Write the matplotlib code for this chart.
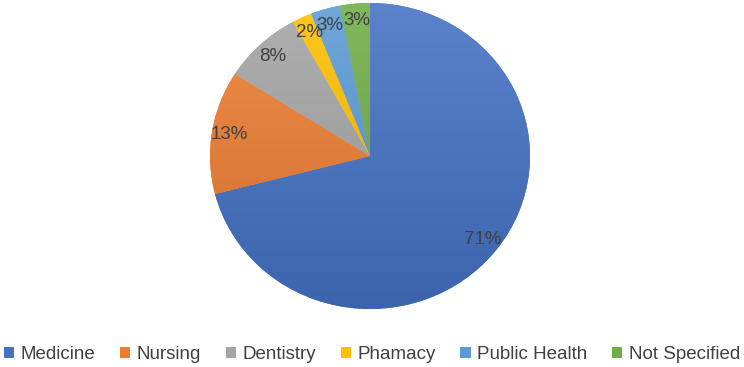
import numpy as np
import matplotlib
matplotlib.use("Agg")
import matplotlib.pyplot as plt
from matplotlib.colors import to_rgb
from matplotlib.patches import Patch

plt.rcParams['font.family'] = ['Liberation Sans', 'DejaVu Sans']

# Data
categories = ["Medicine", "Nursing", "Dentistry", "Phamacy", "Public Health", "Not Specified"]
shares = [71, 13, 8, 2, 3, 3]
colors = ["#4472C4", "#ED7D31", "#A5A5A5", "#FFC000", "#5B9BD5", "#70AD47"]


def shade(c, f):
    c = np.array(to_rgb(c))
    if f > 0:
        return c + (1 - c) * f
    return c * (1 + f)


fig = plt.figure(figsize=(7.44, 3.67), dpi=100)
W, H = 744, 367
ax = fig.add_axes([210 / W, (H - 309) / H, 320 / W, 306 / H])

wedges, texts, autotexts = ax.pie(
    shares, colors=colors, startangle=90, counterclock=False, radius=1,
    autopct='%1.0f%%', pctdistance=0.89,
    wedgeprops=dict(linewidth=0),
    textprops=dict(fontsize=13.5, color='#404040'))
ax.set_aspect('auto')
ax.set_xlim(-1, 1)
ax.set_ylim(-1, 1)

# vertical gradient on each slice (lighter at top, darker at bottom)
ys = np.linspace(0, 1, 256)[:, None]
for w, c in zip(wedges, colors):
    top = shade(c, 0.12)
    bot = shade(c, -0.12)
    grad = top[None, None, :] * (1 - ys[..., None]) + bot[None, None, :] * ys[..., None]
    grad = np.repeat(grad, 2, axis=1)
    im = ax.imshow(grad, extent=(-1, 1, -1, 1), aspect='auto', zorder=w.get_zorder() + 0.1,
                   interpolation='bilinear')
    im.set_clip_path(w)
for t in autotexts:
    t.set_zorder(5)

handles = [Patch(facecolor=c, edgecolor='none') for c in colors]
fig.legend(handles, categories, loc='lower center', bbox_to_anchor=(0.5, -0.035), ncol=6,
           frameon=False, fontsize=13.5, handlelength=0.55, handleheight=0.55,
           handletextpad=0.35, columnspacing=1.3, labelcolor='#404040')

fig.savefig("out.png", dpi=100)
